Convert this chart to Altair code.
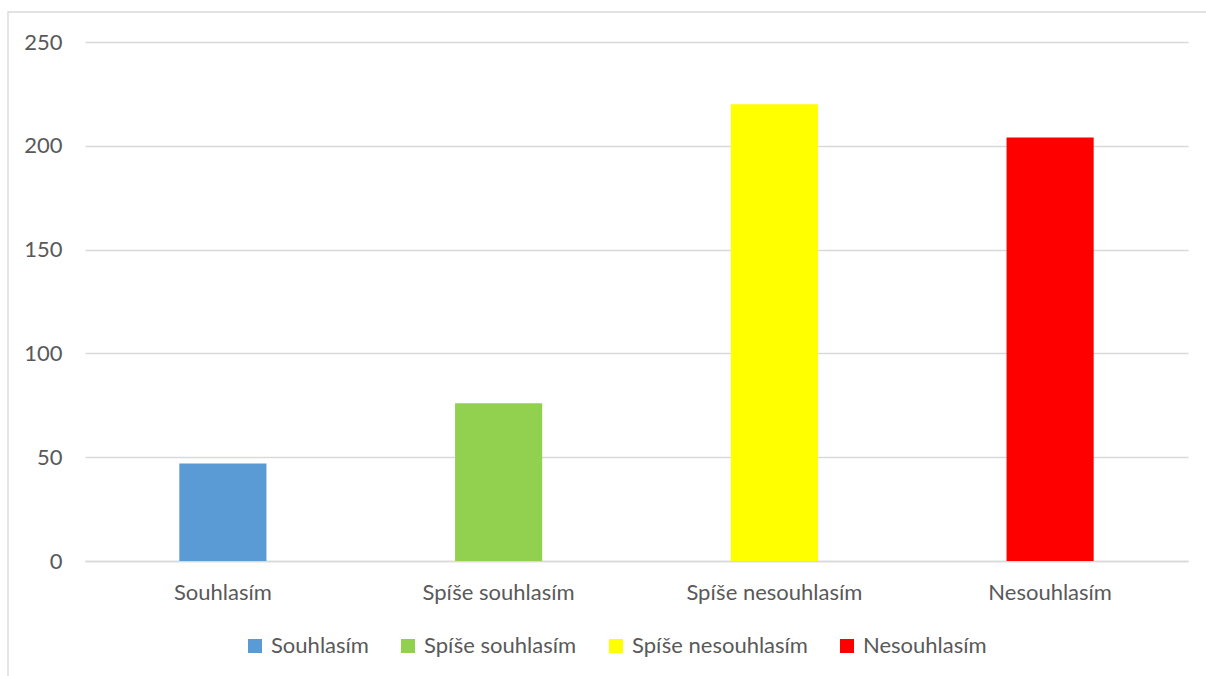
import altair as alt
import pandas as pd

# Survey answers and their counts
categories = ["Souhlasím", "Spíše souhlasím", "Spíše nesouhlasím", "Nesouhlasím"]
counts = [47, 76, 220, 204]
colors = ["#5B9BD5", "#92D050", "#FFFF00", "#FF0000"]
y_ticks = [0, 50, 100, 150, 200, 250]

df = pd.DataFrame({"odpoved": categories, "pocet": counts})

FONT = "Lato"
TEXT = "#595959"
GRID = "#D9D9D9"

W, H = 1103, 519

bars = alt.Chart(df).mark_bar().encode(
    x=alt.X(
        "odpoved:N",
        sort=categories,
        scale=alt.Scale(paddingInner=0.684, paddingOuter=0.342),
        axis=alt.Axis(
            title=None, labelAngle=0, ticks=False, domain=True,
            domainColor=GRID, domainWidth=1.3, grid=False,
            labelFont=FONT, labelFontSize=22, labelColor=TEXT,
            labelPadding=21, labelLimit=400,
        ),
    ),
    y=alt.Y(
        "pocet:Q",
        scale=alt.Scale(domain=[0, 250], nice=False),
        axis=alt.Axis(
            title=None, values=y_ticks, ticks=False, domain=False,
            grid=True, gridColor=GRID, gridWidth=1.3,
            labelFont=FONT, labelFontSize=22, labelColor=TEXT,
            labelPadding=23,
        ),
    ),
    color=alt.Color(
        "odpoved:N",
        sort=categories,
        scale=alt.Scale(domain=categories, range=colors),
        legend=alt.Legend(
            title=None, orient="none", direction="horizontal",
            legendX=159, legendY=593,
            symbolType="square", symbolSize=196, symbolStrokeWidth=0,
            labelFont=FONT, labelFontSize=22, labelColor=TEXT,
            labelOffset=5, columnPadding=28, labelLimit=400,
        ),
    ),
)

# Outer chart frame
frame = alt.Chart(alt.Data(values=[{}])).mark_rect(
    fill=None, stroke=GRID, strokeWidth=1.3
).encode(
    x=alt.value(-77), x2=alt.value(W + 40),
    y=alt.value(-30), y2=alt.value(H + 140),
)

chart = alt.layer(frame, bars).properties(
    width=W, height=H,
    autosize=alt.AutoSizeParams(type="none"),
    padding={"left": 85, "top": 42, "right": 18, "bottom": 115},
    background="white",
).configure_view(stroke=None)

chart.save("out.html", embed_options={"renderer": "svg", "actions": False})
